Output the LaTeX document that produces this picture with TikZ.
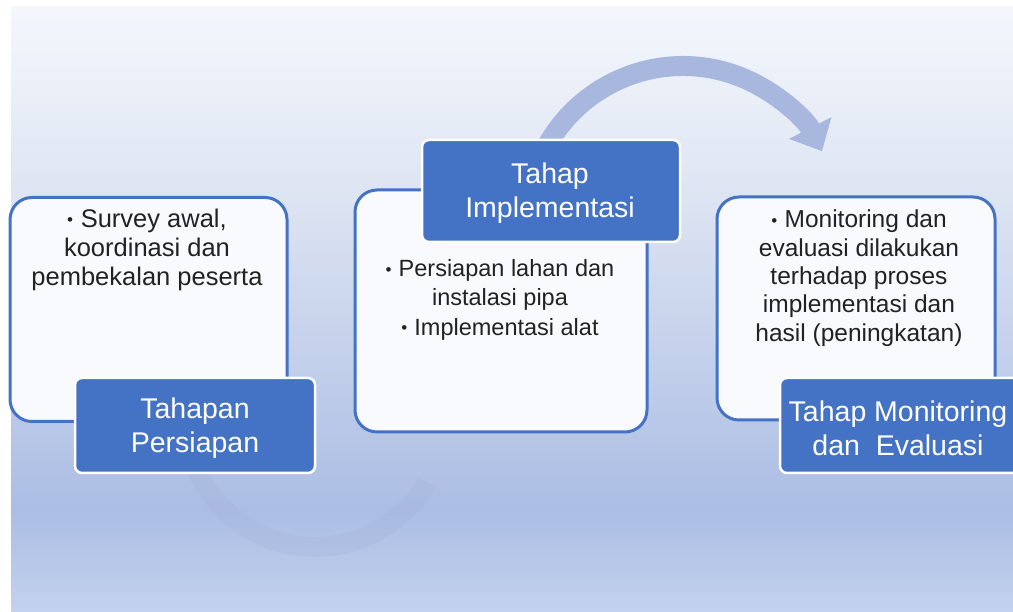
\documentclass[tikz,border=0pt]{standalone}
\usepackage{fontspec}
\setmainfont{Liberation Sans}
\usetikzlibrary{arrows.meta}
\definecolor{officeblue}{HTML}{4472C4}
\definecolor{boxfill}{HTML}{F8FAFD}
\definecolor{arcblue}{HTML}{A7B7DD}
\definecolor{arcfaint}{HTML}{A4B2DA}
\definecolor{bgA}{HTML}{F4F7FC}
\definecolor{bgB}{HTML}{DDE4F2}
\definecolor{bgC}{HTML}{ABBDE4}
\definecolor{bgD}{HTML}{C3D2ED}
\definecolor{textdark}{HTML}{222222}
\newcommand\mybul{\raisebox{0.07em}{\fontsize{17}{17}\selectfont•}\hspace{0.3em}}
\begin{document}
\begin{tikzpicture}[x=1pt,y=1pt,
  contentbox/.style={draw=officeblue, line width=3pt, fill=boxfill, rounded corners=22pt, inner sep=0pt},
  labelbox/.style={draw=white, line width=2.5pt, fill=officeblue, rounded corners=7pt, inner sep=0pt},
  bodytext/.style={text=textdark, align=center, inner sep=0pt, anchor=north},
  labeltext/.style={font=\fontsize{28.5}{34}\selectfont, text=white, align=center, inner sep=0pt},
  flowarc/.style={draw=arcblue, line width=20pt},
  faintarc/.style={draw=arcfaint, line width=20pt, opacity=0.28},
]
\useasboundingbox (0,0) rectangle (1013,612);
\fill[white] (0,0) rectangle (1013,612);
% background gradient
\shade[top color=bgA, bottom color=bgB] (11,605) rectangle (1013,412);
\shade[top color=bgB, bottom color=bgC] (11,413) rectangle (1013,102);
\shade[top color=bgC, bottom color=bgD] (11,103) rectangle (1013,0);

% arc end points
\coordinate (t1) at (541.6,455.9);
\coordinate (b1) at (190.4,160.6);

% arcs (behind the boxes)
\draw[faintarc] (b1) arc[start angle=195, end angle=330, radius=129];
\draw[flowarc, -{Triangle[length=26pt,width=46pt]}] (t1) arc[start angle=155, end angle=27, radius=156];

% content boxes
\node[contentbox, minimum width=277pt, minimum height=224pt] (box1) at (148.5,302.5) {};
\node[contentbox, minimum width=292pt, minimum height=242pt] (box2) at (501,301) {};
\node[contentbox, minimum width=278pt, minimum height=223pt] (box3) at (856,303.5) {};

% label boxes
\node[labelbox, minimum width=240pt, minimum height=95pt] (lab1) at (195,186.5) {};
\node[labelbox, minimum width=258pt, minimum height=102pt] (lab2) at (551,421) {};
\node[labelbox, minimum width=240pt, minimum height=95pt] (lab3) at (900,186.5) {};

% texts
\node[bodytext, font=\fontsize{25.5}{29}\selectfont] (txt1) at (147,403) {\mybul Survey awal,\\koordinasi dan\\pembekalan peserta};
\node[bodytext, font=\fontsize{23.5}{28.5}\selectfont] (txt2) at (500,352.5) {\mybul Persiapan lahan dan\\instalasi pipa\\[1.5pt]\mybul Implementasi alat};
\node[bodytext, font=\fontsize{24.5}{28.3}\selectfont] (txt3) at (859,402) {\mybul Monitoring dan\\evaluasi dilakukan\\terhadap proses\\implementasi dan\\hasil (peningkatan)};

\node[labeltext] (ltxt1) at (195,184) {Tahapan\\Persiapan};
\node[labeltext] (ltxt2) at (550,419) {Tahap\\Implementasi};
\node[labeltext] (ltxt3) at (898,184) {Tahap Monitoring\\dan\ \ Evaluasi};
\end{tikzpicture}
\end{document}
